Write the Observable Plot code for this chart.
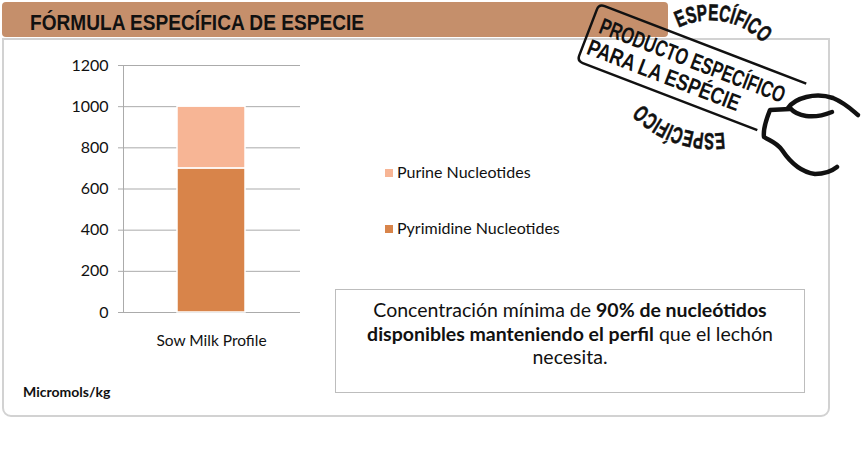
<!DOCTYPE html>
<html>
<head>
<meta charset="utf-8">
<script src="https://cdn.jsdelivr.net/npm/d3@7"></script>
<script src="https://cdn.jsdelivr.net/npm/@observablehq/plot@0.6"></script>
<style>
  html, body { margin: 0; padding: 0; background: #fff; }
  #page { position: relative; width: 862px; height: 458px; overflow: hidden; font-family: Lato, "Open Sans", sans-serif; }
  #frame { position: absolute; left: 2px; top: 38px; width: 824px; height: 375px; border: 2px solid #d2d2d2; border-radius: 0 0 9px 9px; }
  #header { position: absolute; left: 2px; top: 2px; width: 666px; height: 35px; background: #c58f6b; border-radius: 4px; }
  #chart { position: absolute; left: 0; top: 50px; }
  .leg { position: absolute; left: 385px; font-size: 16px; color: #111; white-space: nowrap; }
  .leg span.sw { position: absolute; left: 0; width: 8px; height: 8px; }
  .leg span.tx { position: absolute; left: 12px; }
  #note { position: absolute; left: 335px; top: 289px; width: 470px; height: 104px; border: 1px solid #bdbdbd; box-sizing: border-box;
          text-align: center; font-size: 19.5px; line-height: 23.5px; padding-top: 8px; color: #111; white-space: nowrap; }
  #unit { position: absolute; left: 23px; top: 383px; font-size: 14px; font-weight: bold; color: #111; }
  #stamp { position: absolute; left: 0; top: 0; }
</style>
</head>
<body>
<div id="page">
  <div id="frame"></div>
  <div id="header">
    <svg width="666" height="35"><text x="28" y="28" font-family="'Liberation Sans', Arial, sans-serif" font-weight="bold" font-size="22" textLength="334" lengthAdjust="spacingAndGlyphs" fill="#111">FÓRMULA ESPECÍFICA DE ESPECIE</text></svg>
  </div>
  <div id="chart"></div>
  <div id="legend"></div>
  <div id="note">Concentración mínima de <b>90% de nucleótidos</b><br><b>disponibles manteniendo el perfil</b> que el lechón<br>necesita.</div>
  <div id="unit">Micromols/kg</div>
  <svg id="stamp" width="862" height="458">
    <defs>
      <path id="arcTop" d="M678.6,27.7 A72,72 0 0 1 760.1,40.3"/>
      <path id="arcBot" d="M724.1,132.6 A96,96 0 0 1 643.4,104.9"/>
    </defs>
    <g fill="#111" font-family="'Liberation Sans', Arial, sans-serif" font-weight="bold">
      <g stroke="#111" stroke-width="0.6">
        <text font-size="23"><textPath href="#arcTop" textLength="92" lengthAdjust="spacingAndGlyphs">ESPECÍFICO</textPath></text>
        <text font-size="23"><textPath href="#arcBot" textLength="90" lengthAdjust="spacingAndGlyphs">ESPECÍFICO</textPath></text>
      </g>
      <g transform="translate(599,4) rotate(21)">
        <path d="M222,0 L6,0 Q0,0 0,6 L0,55 Q0,61 6,61 L193,61" fill="none" stroke="#111" stroke-width="2.5"/>
        <text x="9" y="27" font-size="23" textLength="197" lengthAdjust="spacingAndGlyphs">PRODUCTO ESPECÍFICO</text>
        <text x="5" y="51" font-size="23" textLength="162" lengthAdjust="spacingAndGlyphs">PARA LA ESPÉCIE</text>
      </g>
    </g>
    <g fill="none" stroke="#111" stroke-width="4.5" stroke-linecap="round" stroke-linejoin="round">
      <path d="M788,108 C795,98 815,92 833,98 C845,103 852,110 858,115"/>
      <path d="M790,108 C797,116 812,120 832,112"/>
      <path d="M790,109 L770,110 C766,120 763,130 764,137 C770,141 776,142 782,150 C790,162 800,172 815,174 C825,174 832,171 837,167"/>
    </g>
  </svg>
</div>
<script>
const categories = ["Sow Milk Profile"];
const seriesNames = ["Pyrimidine Nucleotides", "Purine Nucleotides"];
const pyrimidineValues = [700];
const purineValues = [300];
const seriesColors = ["#d8844a", "#f7b595"];
const yTicks = [0, 200, 400, 600, 800, 1000, 1200];
const legendOrder = ["Purine Nucleotides", "Pyrimidine Nucleotides"];

const rows = [];
categories.forEach((c, i) => {
  rows.push({category: c, series: seriesNames[0], value: pyrimidineValues[i]});
  rows.push({category: c, series: seriesNames[1], value: purineValues[i]});
});

const gray = "#ababab";
const chart = Plot.plot({
  width: 310,
  height: 307,
  marginLeft: 123,
  marginRight: 10,
  marginTop: 15,
  marginBottom: 45,
  style: {background: "transparent", fontFamily: "Lato, 'Open Sans', sans-serif", color: "#111"},
  x: {domain: categories, padding: 0.44, axis: null},
  y: {domain: [0, 1200], axis: null},
  color: {domain: seriesNames, range: seriesColors},
  marks: [
    Plot.ruleY(yTicks, {stroke: gray, strokeWidth: 1}),
    Plot.axisY({ticks: yTicks, tickSize: 5, tickPadding: 10, stroke: gray, fontSize: 16, label: null, tickFormat: d => String(d)}),
    Plot.frame({anchor: "left", stroke: gray}),
    Plot.barY(rows, Plot.stackY({x: "category", y: "value", fill: "series", stroke: "white", strokeWidth: 1.5})),
    Plot.axisX({tickSize: 0, tickPadding: 22, fontSize: 15.5, label: null})
  ]
});
document.getElementById("chart").appendChild(chart);

const legend = document.getElementById("legend");
const legTops = [178, 234];
legendOrder.forEach((name, i) => {
  const d = document.createElement("div");
  d.className = "leg";
  d.style.top = legTops[i] + "px";
  const sw = document.createElement("span");
  sw.className = "sw";
  sw.style.top = "-9px";
  sw.style.background = seriesColors[seriesNames.indexOf(name)];
  const tx = document.createElement("span");
  tx.className = "tx";
  tx.style.top = "-16px";
  tx.textContent = name;
  d.appendChild(sw); d.appendChild(tx);
  legend.appendChild(d);
});
</script>
</body>
</html>
